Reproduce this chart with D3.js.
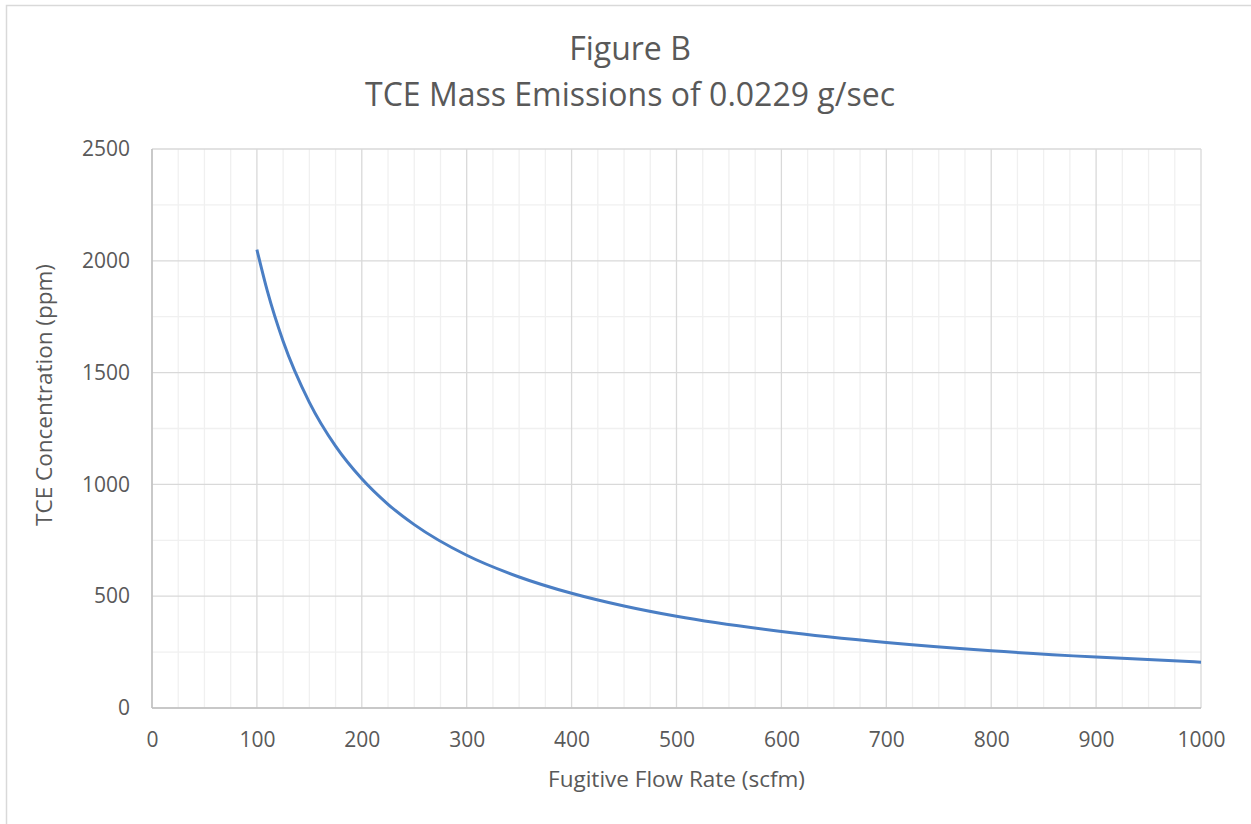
<!DOCTYPE html>
<html>
<head>
<meta charset="utf-8">
<script src="https://cdn.jsdelivr.net/npm/d3@7"></script>
<style>
  body { margin: 0; background: #fff; }
  text { font-family: "Open Sans", Lato, sans-serif; fill: #595959; }
</style>
</head>
<body>
<script>
// flow rate (scfm) vs TCE concentration (ppm)
var flowRate = [100, 110, 125, 150, 175, 200, 225, 250, 300, 350, 400, 450, 500, 600, 700, 800, 900, 1000];
var concentration = [2050, 1864, 1640, 1367, 1171, 1025, 911, 820, 683, 586, 513, 456, 410, 342, 293, 256, 228, 205];
var xTicks = [0, 100, 200, 300, 400, 500, 600, 700, 800, 900, 1000];
var yTicks = [0, 500, 1000, 1500, 2000, 2500];
var titleLines = ["Figure B", "TCE Mass Emissions of 0.0229 g/sec"];
var xTitle = "Fugitive Flow Rate (scfm)";
var yTitle = "TCE Concentration (ppm)";

var data = flowRate.map(function(d, i) { return {x: d, y: concentration[i]}; });

// set the dimensions and margins of the graph
var W = 1251, H = 824;
var margin = {top: 149, right: 50, bottom: 116, left: 152},
    width = W - margin.left - margin.right,
    height = H - margin.top - margin.bottom;

var root = d3.select("body")
    .append("svg")
    .attr("width", W)
    .attr("height", H);

// chart border
root.append("rect")
    .attr("x", 6.5).attr("y", 5.5)
    .attr("width", W + 20).attr("height", H + 20)
    .attr("fill", "none")
    .attr("stroke", "#d9d9d9")
    .attr("stroke-width", 1.5);

var svg = root.append("g")
    .attr("transform", "translate(" + margin.left + "," + margin.top + ")");

var x = d3.scaleLinear().domain([0, 1000]).range([0, width]);
var y = d3.scaleLinear().domain([0, 2500]).range([height, 0]);

// minor gridlines
svg.append("g")
    .selectAll("line")
    .data(d3.range(25, 1000, 25).filter(function(d) { return d % 100 !== 0; }))
    .enter().append("line")
    .attr("x1", function(d) { return x(d); }).attr("x2", function(d) { return x(d); })
    .attr("y1", 0).attr("y2", height)
    .attr("stroke", "#f0f0f0").attr("stroke-width", 1.3);
svg.append("g")
    .selectAll("line")
    .data(d3.range(250, 2500, 250).filter(function(d) { return d % 500 !== 0; }))
    .enter().append("line")
    .attr("x1", 0).attr("x2", width)
    .attr("y1", function(d) { return y(d); }).attr("y2", function(d) { return y(d); })
    .attr("stroke", "#f0f0f0").attr("stroke-width", 1.3);

// major gridlines
svg.append("g")
    .selectAll("line")
    .data(xTicks)
    .enter().append("line")
    .attr("x1", function(d) { return x(d); }).attr("x2", function(d) { return x(d); })
    .attr("y1", 0).attr("y2", height)
    .attr("stroke", "#d9d9d9").attr("stroke-width", 1.3);
svg.append("g")
    .selectAll("line")
    .data(yTicks)
    .enter().append("line")
    .attr("x1", 0).attr("x2", width)
    .attr("y1", function(d) { return y(d); }).attr("y2", function(d) { return y(d); })
    .attr("stroke", "#d9d9d9").attr("stroke-width", 1.3);

// axis lines
svg.append("line").attr("x1", 0).attr("x2", width).attr("y1", height).attr("y2", height)
    .attr("stroke", "#bfbfbf").attr("stroke-width", 1.5);
svg.append("line").attr("x1", 0).attr("x2", 0).attr("y1", 0).attr("y2", height)
    .attr("stroke", "#bfbfbf").attr("stroke-width", 1.5);

// tick labels
var xAxis = svg.append("g")
    .attr("transform", "translate(0," + height + ")")
    .call(d3.axisBottom(x).tickValues(xTicks).tickFormat(d3.format("d")).tickSize(0).tickPadding(24));
xAxis.select(".domain").remove();
xAxis.selectAll("text").style("font-size", "21px");

var yAxis = svg.append("g")
    .call(d3.axisLeft(y).tickValues(yTicks).tickFormat(d3.format("d")).tickSize(0).tickPadding(22));
yAxis.select(".domain").remove();
yAxis.selectAll("text").style("font-size", "21px");

// the line
var valueline = d3.line()
    .curve(d3.curveMonotoneX)
    .x(function(d) { return x(d.x); })
    .y(function(d) { return y(d.y); });
svg.append("path")
    .datum(data)
    .attr("fill", "none")
    .attr("stroke", "#4a7ec4")
    .attr("stroke-width", 3)
    .attr("d", valueline);

// titles
root.selectAll("text.title")
    .data(titleLines)
    .enter().append("text")
    .attr("class", "title")
    .attr("x", 630)
    .attr("y", function(d, i) { return 60 + i * 46; })
    .attr("text-anchor", "middle")
    .style("font-size", "32px")
    .text(function(d) { return d; });

root.append("text")
    .attr("x", margin.left + width / 2)
    .attr("y", 787)
    .attr("text-anchor", "middle")
    .style("font-size", "22.5px")
    .text(xTitle);

root.append("text")
    .attr("transform", "translate(52," + 395 + ") rotate(-90)")
    .attr("text-anchor", "middle")
    .style("font-size", "22.5px")
    .text(yTitle);
</script>
</body>
</html>
